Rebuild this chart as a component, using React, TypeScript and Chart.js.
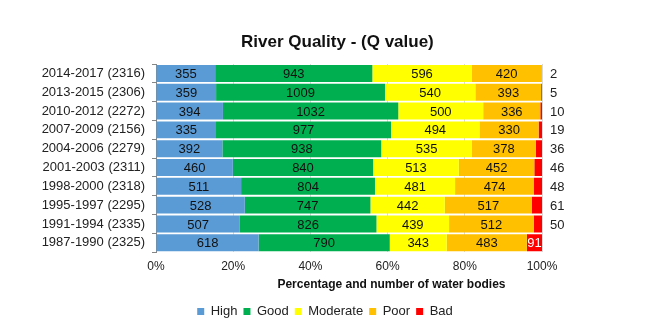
import React, { useEffect, useRef } from "react";
import { Chart, registerables } from "chart.js";

Chart.register(...registerables);

const periods = ["2014-2017", "2013-2015", "2010-2012", "2007-2009", "2004-2006", "2001-2003", "1998-2000", "1995-1997", "1991-1994", "1987-1990"];
const totals = [2316, 2306, 2272, 2156, 2279, 2311, 2318, 2295, 2335, 2325];
const high = [355, 359, 394, 335, 392, 460, 511, 528, 507, 618];
const good = [943, 1009, 1032, 977, 938, 840, 804, 747, 826, 790];
const moderate = [596, 540, 500, 494, 535, 513, 481, 442, 439, 343];
const poor = [420, 393, 336, 330, 378, 452, 474, 517, 512, 483];
const bad = [2, 5, 10, 19, 36, 46, 48, 61, 50, 91];
const seriesNames = ["High", "Good", "Moderate", "Poor", "Bad"];
const seriesColors = ["#5B9BD5", "#00B050", "#FFFF00", "#FFC000", "#FF0000"];
const xTicks = [0, 20, 40, 60, 80, 100];
const titleText = "River Quality - (Q value)";
const xTitleText = "Percentage and number of water bodies";

const FONT = "'Liberation Sans', Arial, sans-serif";

export default function App() {
  const ref = useRef<HTMLCanvasElement | null>(null);
  useEffect(() => {
    document.body.style.margin = "0";
    const series = [high, good, moderate, poor, bad];
    const rowSums = periods.map((_, i) => series.reduce((s, arr) => s + arr[i], 0));
    const labels = periods.map((p, i) => `${p} (${totals[i]})`);

    const labelPlugin = {
      id: "segLabels",
      afterDatasetsDraw(chart: any) {
        const ctx = chart.ctx;
        const area = chart.chartArea;
        ctx.save();
        ctx.font = `13px ${FONT}`;
        ctx.textBaseline = "middle";
        chart.data.datasets.forEach((ds: any, di: number) => {
          const meta = chart.getDatasetMeta(di);
          meta.data.forEach((el: any, i: number) => {
            const raw = ds.raw[i];
            const w = Math.abs(el.x - el.base);
            if (di === 4) {
              if (w < 13) {
                ctx.fillStyle = "#222";
                ctx.textAlign = "left";
                ctx.fillText(String(raw), area.right + 8, el.y + 1);
              } else {
                ctx.fillStyle = "#ffffff";
                ctx.textAlign = "center";
                ctx.fillText(String(raw), (el.x + el.base) / 2, el.y + 1);
              }
            } else {
              ctx.fillStyle = "#111";
              ctx.textAlign = "center";
              ctx.fillText(String(raw), (el.x + el.base) / 2, el.y + 1);
            }
          });
        });
        ctx.restore();
      },
      afterDraw(chart: any) {
        const ctx = chart.ctx;
        const area = chart.chartArea;
        ctx.save();
        ctx.fillStyle = "#111";
        ctx.textAlign = "center";
        ctx.textBaseline = "middle";
        ctx.font = `bold 17px ${FONT}`;
        ctx.fillText(titleText, area.left + area.width * 0.47, 42);
        const xs = chart.scales.x;
        ctx.font = `bold 12px ${FONT}`;
        ctx.fillText(xTitleText, area.left + area.width * 0.61, xs.bottom - 14);
        ctx.restore();
      },
    };

    const chart = new Chart(ref.current as HTMLCanvasElement, {
      type: "bar",
      data: {
        labels,
        datasets: series.map((arr, si) => ({
          label: seriesNames[si],
          data: arr.map((v, i) => (v / rowSums[i]) * 100),
          raw: arr,
          backgroundColor: seriesColors[si],
          borderWidth: 0,
          barPercentage: 0.9,
          categoryPercentage: 1,
        })) as any,
      },
      options: {
        indexAxis: "y",
        animation: false,
        responsive: true,
        maintainAspectRatio: false,
        layout: { padding: { top: 64, left: 0, right: 0, bottom: 0 } },
        scales: {
          x: {
            stacked: true,
            min: 0,
            max: 100,
            afterBuildTicks: (scale: any) => {
              scale.ticks = xTicks.map((v) => ({ value: v }));
            },
            ticks: {
              callback: (v: any) => `${v}%`,
              color: "#222",
              font: { size: 12, family: FONT },
              padding: 7,
            },
            grid: { color: "#d9d9d9", drawTicks: false },
            border: { display: false },
            title: {
              display: true,
              text: xTitleText,
              color: "rgba(0,0,0,0)",
              font: { size: 12, weight: "bold", family: FONT },
              padding: { top: 0, bottom: 4 },
            },
          },
          y: {
            stacked: true,
            afterFit: (scale: any) => {
              scale.width = 156;
            },
            ticks: {
              autoSkip: false,
              color: "#222",
              font: { size: 13, family: FONT },
              padding: 7,
            },
            grid: { drawOnChartArea: false, tickLength: 4, color: "#868686" },
            border: { color: "#868686" },
          },
          yRight: {
            type: "category",
            position: "right",
            labels,
            afterFit: (scale: any) => {
              scale.width = 108;
            },
            ticks: { display: false },
            grid: { display: false },
            border: { display: false },
          },
        },
        plugins: {
          title: { display: false },
          tooltip: { enabled: false },
          legend: {
            display: true,
            position: "bottom",
            labels: {
              boxWidth: 7,
              boxHeight: 7,
              color: "#222",
              font: { size: 13, family: FONT },
              padding: 6,
            },
          },
        },
      } as any,
      plugins: [labelPlugin],
    });
    return () => chart.destroy();
  }, []);

  return (
    <div style={{ width: 650, height: 328, position: "relative", background: "#fff" }}>
      <canvas ref={ref} />
    </div>
  );
}
